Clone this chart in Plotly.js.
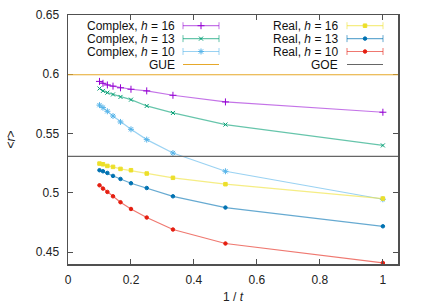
<!DOCTYPE html>
<html><head><meta charset="utf-8">
<script src="https://cdn.plot.ly/plotly-3.0.1.min.js"></script>
<style>html,body{margin:0;padding:0;background:#fff}#c{width:427px;height:305px}</style>
</head><body><div id="c"></div>
<script>
// x = 1/t for t = 1..10
const invT = [1, 0.5, 0.3333, 0.25, 0.2, 0.1667, 0.1429, 0.125, 0.1111, 0.1];
const complexH16 = [0.568, 0.5767, 0.5823, 0.586, 0.5874, 0.5886, 0.590, 0.591, 0.5924, 0.594];
const complexH13 = [0.540, 0.5576, 0.5674, 0.5733, 0.5786, 0.5809, 0.583, 0.5845, 0.586, 0.588];
const complexH10 = [0.4946, 0.5182, 0.5336, 0.5449, 0.5536, 0.5598, 0.5648, 0.5688, 0.5719, 0.574];
const realH16 = [0.4952, 0.5073, 0.5127, 0.5163, 0.5191, 0.5202, 0.5219, 0.5227, 0.5241, 0.5247];
const realH13 = [0.4718, 0.4876, 0.4971, 0.5041, 0.5081, 0.5117, 0.5143, 0.5168, 0.5182, 0.5191];
const realH10 = [0.4409, 0.4573, 0.4691, 0.4792, 0.4864, 0.4921, 0.4971, 0.5008, 0.5036, 0.5064];
const GUE = 0.5996;
const GOE = 0.5307;
const xTicks = [0, 0.2, 0.4, 0.6, 0.8, 1];
const xTickText = ['0', '0.2', '0.4', '0.6', '0.8', '1'];
const yTicks = [0.45, 0.5, 0.55, 0.6, 0.65];
const yTickText = ['0.45', '0.5', '0.55', '0.6', '0.65'];

const series = [
  {name: 'Complex, <i>h</i> = 16', y: complexH16, mc: '#9400d3', lc: 'rgba(148,0,211,0.55)', sym: 'cross-thin-open', size: 5, col: 0, row: 0},
  {name: 'Complex, <i>h</i> = 13', y: complexH13, mc: '#009e73', lc: 'rgba(0,158,115,0.6)', sym: 'x-thin-open', size: 4, col: 0, row: 1},
  {name: 'Complex, <i>h</i> = 10', y: complexH10, mc: '#56b4e9', lc: 'rgba(86,180,233,0.6)', sym: 'asterisk-open', size: 5, col: 0, row: 2},
  {name: 'Real, <i>h</i> = 16', y: realH16, mc: '#ecdf2a', lc: 'rgba(240,228,66,0.65)', sym: 'square', size: 3.5, col: 1, row: 0},
  {name: 'Real, <i>h</i> = 13', y: realH13, mc: '#0072b2', lc: 'rgba(0,114,178,0.6)', sym: 'circle', size: 3.5, col: 1, row: 1},
  {name: 'Real, <i>h</i> = 10', y: realH10, mc: '#e51e10', lc: 'rgba(229,30,16,0.6)', sym: 'circle', size: 3.5, col: 1, row: 2}
];

const font = 'Liberation Sans, Arial, sans-serif';
const traces = [];
series.forEach(s => {
  traces.push({x: invT, y: s.y, type: 'scatter', mode: 'lines+markers', showlegend: false,
    line: {color: s.lc, width: 1.2}, marker: {color: s.mc, symbol: s.sym, size: s.size, line: {color: s.mc, width: 1}}});
});

// legend graphics on a pixel-coordinate overlay axis
const rowsY = [25.7, 38.6, 51.5, 64.5];
const cols = [{textX: 176, x1: 183, x2: 219}, {textX: 339, x1: 347, x2: 383}];
const annotations = [];
series.forEach(s => {
  const c = cols[s.col], yy = rowsY[s.row];
  traces.push({x: [c.x1, c.x2], y: [yy, yy], xaxis: 'x2', yaxis: 'y2', type: 'scatter', mode: 'lines', showlegend: false,
    line: {color: s.lc, width: 1.2}, error_y: {type: 'constant', value: 3.5, width: 0, thickness: 1, color: s.lc}});
  traces.push({x: [(c.x1 + c.x2) / 2], y: [yy], xaxis: 'x2', yaxis: 'y2', type: 'scatter', mode: 'markers', showlegend: false,
    marker: {color: s.mc, symbol: s.sym, size: s.size, line: {color: s.mc, width: 1}}});
  annotations.push({xref: 'x2', yref: 'y2', x: c.textX, y: yy, xanchor: 'right', yanchor: 'middle', showarrow: false,
    borderpad: 0, text: s.name, font: {family: font, size: 12, color: '#111'}});
});
[{name: 'GUE', color: '#e6a82a', col: 0}, {name: 'GOE', color: '#666', col: 1}].forEach(r => {
  const c = cols[r.col], yy = rowsY[3];
  traces.push({x: [c.x1, c.x2], y: [yy, yy], xaxis: 'x2', yaxis: 'y2', type: 'scatter', mode: 'lines', showlegend: false,
    line: {color: r.color, width: 1.2}});
  annotations.push({xref: 'x2', yref: 'y2', x: c.textX, y: yy, xanchor: 'right', yanchor: 'middle', showarrow: false,
    borderpad: 0, text: r.name, font: {family: font, size: 12, color: '#111'}});
});

const axisCommon = {showline: true, linecolor: '#505050', linewidth: 1.5, mirror: 'ticks', ticks: 'inside', ticklen: 5,
  tickcolor: '#505050', tickwidth: 1, showgrid: false, zeroline: false, tickfont: {family: font, size: 12, color: '#222'}};

const layout = {
  width: 427, height: 305, margin: {l: 68, r: 29, t: 15, b: 41},
  paper_bgcolor: '#fff', plot_bgcolor: '#fff', showlegend: false,
  xaxis: Object.assign({}, axisCommon, {range: [0, 1.048], tickvals: xTicks, ticktext: xTickText, ticklabelstandoff: 4,
    title: {text: '1 / <i>t</i>', font: {family: font, size: 12, color: '#222'}, standoff: 6}}),
  yaxis: Object.assign({}, axisCommon, {range: [0.44, 0.65], tickvals: yTicks, ticktext: yTickText, ticklabelstandoff: 5,
    title: {text: '&lt;<i>r</i>&gt;', font: {family: font, size: 12, color: '#222'}, standoff: 17}}),
  xaxis2: {overlaying: 'x', anchor: 'y2', range: [68, 398], visible: false, fixedrange: true},
  yaxis2: {overlaying: 'y', anchor: 'x2', range: [264, 15], visible: false, fixedrange: true},
  shapes: [
    {type: 'line', xref: 'paper', x0: 0, x1: 1, yref: 'y', y0: GUE, y1: GUE, line: {color: '#e6a82a', width: 1.2}},
    {type: 'line', xref: 'paper', x0: 0, x1: 1, yref: 'y', y0: GOE, y1: GOE, line: {color: '#666', width: 1.2}}
  ],
  annotations: annotations
};
Plotly.newPlot('c', traces, layout, {displayModeBar: false, staticPlot: true});
</script></body></html>
